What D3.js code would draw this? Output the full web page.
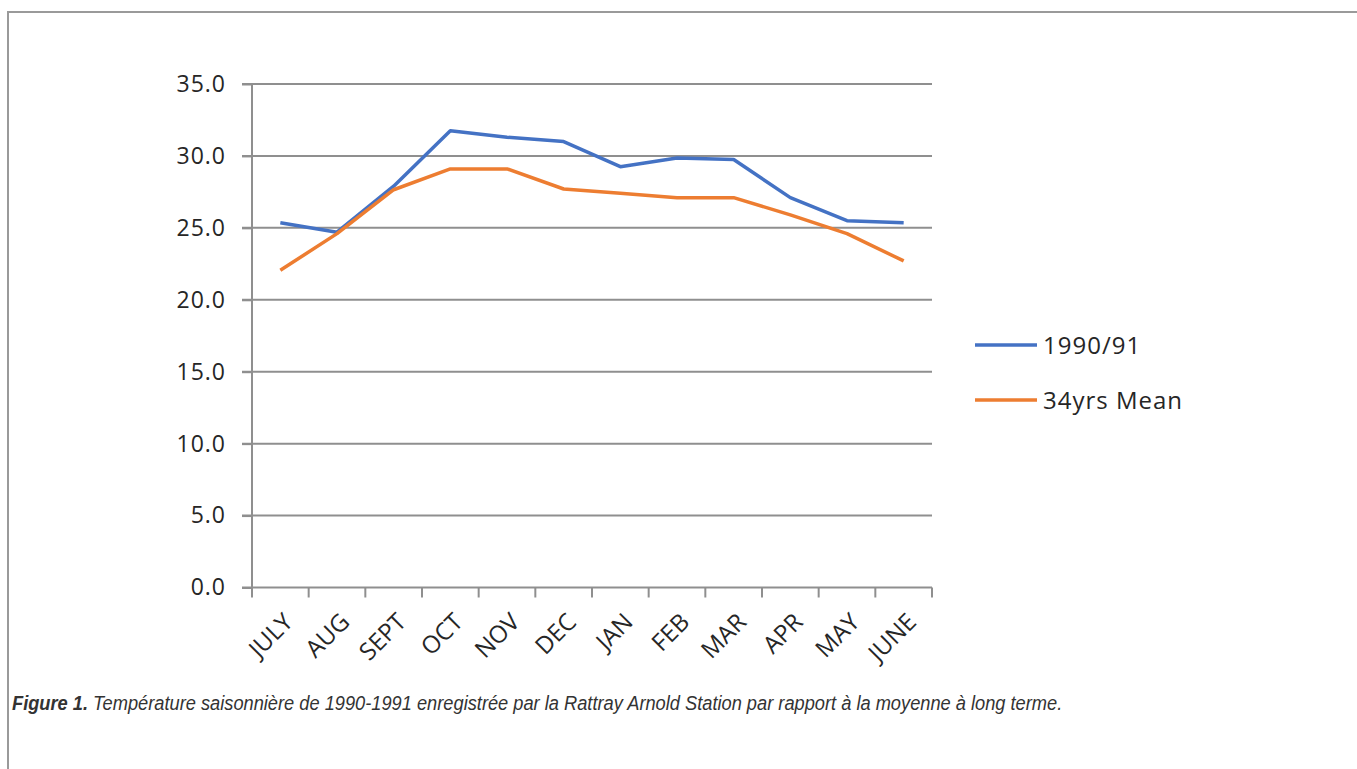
<!DOCTYPE html>
<html>
<head>
<meta charset="utf-8">
<script src="https://cdn.jsdelivr.net/npm/d3@7"></script>
<style>
  body { margin: 0; background: #fff; }
  .axisText { font-family: "Open Sans", "Noto Sans", sans-serif; fill: #262626; }
</style>
</head>
<body>
<div id="chart"></div>
<script>
// chart data
var months = ["JULY", "AUG", "SEPT", "OCT", "NOV", "DEC", "JAN", "FEB", "MAR", "APR", "MAY", "JUNE"];
var season9091 = [25.35, 24.7, 27.9, 31.75, 31.3, 31.0, 29.25, 29.85, 29.75, 27.1, 25.5, 25.35];
var mean34yrs = [22.05, 24.6, 27.65, 29.1, 29.1, 27.7, 27.4, 27.1, 27.1, 25.9, 24.6, 22.7];
var yTicks = [0, 5, 10, 15, 20, 25, 30, 35];
var seriesNames = ["1990/91", "34yrs Mean"];
var captionBold = "Figure 1.";
var captionText = " Température saisonnière de 1990-1991 enregistrée par la Rattray Arnold Station par rapport à la moyenne à long terme.";

var svgWidth = 1357;
var svgHeight = 769;

var plot = { left: 252, right: 932, top: 84, bottom: 587.5 };
var colors = ["#4472c4", "#ed7d31"];

var svg = d3.select("#chart")
  .append("svg")
  .attr("width", svgWidth)
  .attr("height", svgHeight);

svg.append("rect")
  .attr("width", svgWidth)
  .attr("height", svgHeight)
  .attr("fill", "#fff");

// frame round the figure (runs off the right and bottom)
svg.append("rect")
  .attr("x", 8)
  .attr("y", 12)
  .attr("width", 1400)
  .attr("height", 800)
  .attr("fill", "none")
  .attr("stroke", "#9a9a9a")
  .attr("stroke-width", 2);

var xScale = d3.scaleBand()
  .domain(months)
  .range([plot.left, plot.right]);

var yScale = d3.scaleLinear()
  .domain([0, 35])
  .range([plot.bottom, plot.top]);

// gridlines
svg.append("g")
  .selectAll("line")
  .data(yTicks.filter(d => d > 0))
  .enter()
  .append("line")
  .attr("x1", plot.left - 10)
  .attr("x2", plot.right)
  .attr("y1", d => yScale(d))
  .attr("y2", d => yScale(d))
  .attr("stroke", "#8f8f8f")
  .attr("stroke-width", 2);

// y axis
var leftAxis = d3.axisLeft(yScale)
  .tickValues(yTicks)
  .tickSize(10)
  .tickPadding(16)
  .tickFormat(d3.format(".1f"));

var yAxis = svg.append("g")
  .attr("transform", `translate(${plot.left}, 0)`)
  .call(leftAxis);

yAxis.select(".domain").remove();
yAxis.selectAll(".tick line")
  .attr("stroke", "#8f8f8f")
  .attr("stroke-width", 2);
yAxis.selectAll("text")
  .attr("class", "axisText")
  .attr("font-size", 23)
  .attr("letter-spacing", 1)
  .attr("fill", "#262626");

svg.append("line")
  .attr("x1", plot.left)
  .attr("x2", plot.left)
  .attr("y1", plot.top)
  .attr("y2", plot.bottom)
  .attr("stroke", "#8f8f8f")
  .attr("stroke-width", 2);

// x axis: ticks on the band edges
svg.append("line")
  .attr("x1", plot.left - 10)
  .attr("x2", plot.right)
  .attr("y1", plot.bottom)
  .attr("y2", plot.bottom)
  .attr("stroke", "#8f8f8f")
  .attr("stroke-width", 2);

var edges = months.map(m => xScale(m)).concat([plot.right]);
svg.append("g")
  .selectAll("line")
  .data(edges)
  .enter()
  .append("line")
  .attr("x1", d => d)
  .attr("x2", d => d)
  .attr("y1", plot.bottom)
  .attr("y2", plot.bottom + 10)
  .attr("stroke", "#8f8f8f")
  .attr("stroke-width", 2);

svg.append("g")
  .selectAll("text")
  .data(months)
  .enter()
  .append("text")
  .attr("class", "axisText")
  .attr("font-size", 24)
  .attr("text-anchor", "end")
  .attr("transform", d => `translate(${xScale(d) + xScale.bandwidth() / 2 + 14}, ${plot.bottom + 36}) rotate(-45)`)
  .text(d => d);

// the two series
var line = d3.line()
  .x((d, i) => xScale(months[i]) + xScale.bandwidth() / 2)
  .y(d => yScale(d));

[season9091, mean34yrs].forEach(function(values, i) {
  svg.append("path")
    .datum(values)
    .attr("d", line)
    .attr("fill", "none")
    .attr("stroke", colors[i])
    .attr("stroke-width", 3.5)
    .attr("stroke-linejoin", "round");
});

// legend
var legend = svg.append("g")
  .selectAll("g")
  .data(seriesNames)
  .enter()
  .append("g")
  .attr("transform", (d, i) => `translate(975, ${345 + i * 55})`);

legend.append("line")
  .attr("x1", 0)
  .attr("x2", 62)
  .attr("stroke", (d, i) => colors[i])
  .attr("stroke-width", 3.5);

legend.append("text")
  .attr("class", "axisText")
  .attr("x", 68)
  .attr("y", 8.5)
  .attr("font-size", 24)
  .attr("letter-spacing", 1)
  .text(d => d);

// caption, in a condensed face
var caption = svg.append("text")
  .attr("x", 0)
  .attr("y", 0)
  .attr("font-family", "'Liberation Sans Narrow', 'Arial Narrow', 'Liberation Sans', sans-serif")
  .attr("font-style", "italic")
  .attr("font-size", 19.5)
  .attr("fill", "#333");

caption.append("tspan")
  .attr("font-weight", "bold")
  .text(captionBold);

caption.append("tspan")
  .text(captionText);

// squeeze the caption to the width it has in the figure
var capWidth = caption.node().getComputedTextLength();
var sx = capWidth > 0 ? 1051 / capWidth : 1;
caption.attr("transform", `translate(12, 710) scale(${sx}, 1)`);
</script>
</body>
</html>
